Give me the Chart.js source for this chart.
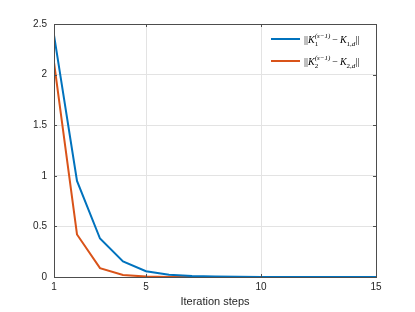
<!DOCTYPE html>
<html>
<head>
<meta charset="utf-8">
<script src="https://cdn.jsdelivr.net/npm/chart.js@4"></script>
<style>
  html, body { margin: 0; padding: 0; background: #fff; }
  #wrap { width: 415px; height: 312px; }
</style>
</head>
<body>
<div id="wrap"><canvas id="myChart"></canvas></div>
<script>
// iteration steps 1..15
const steps = [1,2,3,4,5,6,7,8,9,10,11,12,13,14,15];
// ||K1^(s-1) - K1,d||
const err1 = [2.39, 0.95, 0.38, 0.153, 0.057, 0.022, 0.009, 0.004, 0.0015, 0.0006, 0.0003, 0.0001, 0.00005, 0.00002, 0.00001];
// ||K2^(s-1) - K2,d||
const err2 = [2.12, 0.42, 0.088, 0.02, 0.004, 0.001, 0.0002, 0.00005, 0.00001, 0, 0, 0, 0, 0, 0];
const xTicks = [1, 5, 10, 15];
const yTicks = [0, 0.5, 1, 1.5, 2, 2.5];
const seriesNames = ['||K1^(s-1) - K1,d||', '||K2^(s-1) - K2,d||'];

const blue = '#0072BD';
const orange = '#D95319';
const axisCol = '#4d4d4d';

function pts(ys) {
    return steps.map((s, i) => ({ x: s, y: ys[i] }));
}

// box, inward ticks and the LaTeX-ish legend
const decor = {
    id: 'decor',
    afterDatasetsDraw(chart) {
        const c = chart.ctx;
        const a = chart.chartArea;
        const xs = chart.scales.x, ys = chart.scales.y;
        c.save();
        c.strokeStyle = axisCol;
        c.lineWidth = 1;
        c.strokeRect(Math.round(a.left) + 0.5, Math.round(a.top) + 0.5, Math.round(a.right - a.left), Math.round(a.bottom - a.top));
        c.beginPath();
        xTicks.forEach(t => {
            const px = Math.round(xs.getPixelForValue(t)) + 0.5;
            c.moveTo(px, a.bottom); c.lineTo(px, a.bottom - 3);
            c.moveTo(px, a.top); c.lineTo(px, a.top + 3);
        });
        yTicks.forEach(t => {
            const py = Math.round(ys.getPixelForValue(t)) + 0.5;
            c.moveTo(a.left, py); c.lineTo(a.left + 3, py);
            c.moveTo(a.right, py); c.lineTo(a.right - 3, py);
        });
        c.stroke();

        // legend
        const cols = [blue, orange];
        const sub = ['1', '2'];
        c.textBaseline = 'alphabetic';
        cols.forEach((col, i) => {
            const y = 39 + i * 22;
            c.strokeStyle = col;
            c.lineWidth = 2;
            c.beginPath();
            c.moveTo(271, y); c.lineTo(300, y);
            c.stroke();
            c.fillStyle = '#000';
            let x = 304;
            const base = y + 3.5;
            const put = (txt, font, dy) => {
                c.font = font;
                c.fillText(txt, x, base + dy);
                x += c.measureText(txt).width;
            };
            put('||', '10px "Liberation Serif"', 0);
            put('K', 'italic 10px "Liberation Serif"', 0);
            const xs0 = x;
            put(sub[i], '7px "Liberation Serif"', 3);
            const xSub = x;
            x = xs0;
            put('(s\u22121)', 'italic 7px "Liberation Serif"', -4.5);
            x = Math.max(x, xSub) + 2;
            put('\u2212', '10px "Liberation Serif"', 0);
            x += 2;
            put('K', 'italic 10px "Liberation Serif"', 0);
            put(sub[i] + ',', '7px "Liberation Serif"', 3);
            put('d', 'italic 7px "Liberation Serif"', 3);
            put('||', '10px "Liberation Serif"', 0);
        });
        c.restore();
    }
};

const ctx = document.getElementById('myChart').getContext('2d');
const myChart = new Chart(ctx, {
    type: 'line',
    data: {
        datasets: [{
            label: seriesNames[0],
            data: pts(err1),
            borderColor: blue,
            backgroundColor: blue,
            borderWidth: 2,
            pointRadius: 0,
            tension: 0
        }, {
            label: seriesNames[1],
            data: pts(err2),
            borderColor: orange,
            backgroundColor: orange,
            borderWidth: 2,
            pointRadius: 0,
            tension: 0
        }]
    },
    options: {
        responsive: true,
        maintainAspectRatio: false,
        animation: false,
        layout: { padding: { left: 0, top: 24, right: 39, bottom: 0 } },
        plugins: { legend: { display: false }, tooltip: { enabled: false } },
        scales: {
            x: {
                type: 'linear',
                min: 1, max: 15,
                afterBuildTicks: (s) => { s.ticks = xTicks.map(v => ({ value: v })); },
                afterFit: (s) => { s.height = 35; },
                grid: { color: '#e3e3e3', drawTicks: false },
                border: { display: false },
                ticks: { color: '#262626', font: { family: 'Liberation Sans', size: 10 }, padding: 4, maxRotation: 0,
                         callback: (v) => String(v) },
                title: { display: true, text: 'Iteration steps', color: '#262626', font: { family: 'Liberation Sans', size: 11 }, padding: { top: 0, bottom: 3 } }
            },
            y: {
                min: 0, max: 2.5,
                afterBuildTicks: (s) => { s.ticks = yTicks.map(v => ({ value: v })); },
                afterFit: (s) => { s.width = 54; },
                grid: { color: '#e3e3e3', drawTicks: false },
                border: { display: false },
                ticks: { color: '#262626', font: { family: 'Liberation Sans', size: 10 }, padding: 7,
                         callback: (v) => String(v) }
            }
        }
    },
    plugins: [decor]
});
</script>
</body>
</html>
